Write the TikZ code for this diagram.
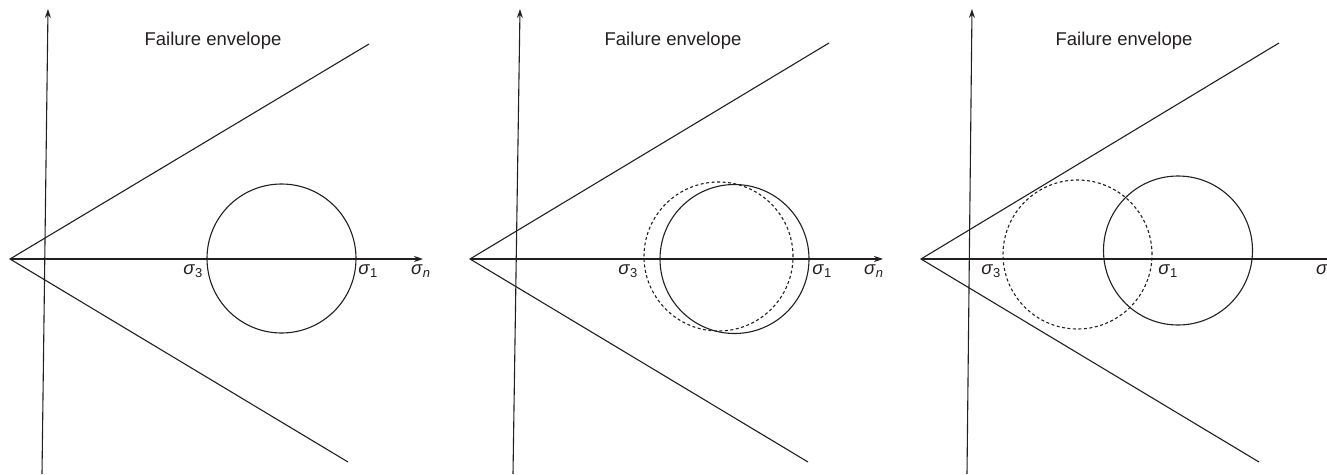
\documentclass[tikz,border=0pt]{standalone}
\usepackage{fontspec}
\setmainfont{Liberation Sans}
\usepackage{tikz}
\usetikzlibrary{arrows.meta}
\definecolor{ink}{HTML}{231F20}
\newcommand{\sig}[1]{\textit{σ}\textsubscript{#1}}

\begin{document}
\begin{tikzpicture}[
  x=1pt, y=-1pt,
  >={Stealth[length=9pt,width=6pt]},
  every node/.style={text=ink, font=\fontsize{18.5}{22}\selectfont},
  axis/.style={->, line width=1.1pt, draw=ink},
  envelope/.style={line width=1.1pt, draw=ink},
  mohr/.style={line width=1.1pt, draw=ink},
  shifted/.style={mohr, dash pattern=on 3pt off 2.5pt},
  lbl/.style={inner sep=0pt}
]
\useasboundingbox (0,0) rectangle (1327,474);

% ---- panel 1: initial state ----
\coordinate (O1) at (10,259);
\coordinate (T1) at (48,9);
\coordinate (B1) at (42,474);
\coordinate (X1) at (423,259);
\coordinate (U1) at (369,44);
\coordinate (L1) at (348,462);
\coordinate (C1) at (281.5,258.5);

\node (F1) at (213,41) {Failure envelope};
\draw[axis] (B1) -- (T1);
\draw[axis] (O1) -- (X1);
\draw[envelope] (U1) -- (O1) -- (L1);
\draw[mohr] (C1) circle[radius=74.5pt];

\node[lbl] (s3a) at (193,271) {\sig{3}};
\node[lbl] (s1a) at (368,271) {\sig{1}};
\node[lbl, anchor=west] (sna) at (411,271) {\sig{\textit{n}}};

% ---- panel 2: small shift ----
\coordinate (O2) at (470,259);
\coordinate (T2) at (520,9);
\coordinate (B2) at (513,474);
\coordinate (X2) at (883,259);
\coordinate (U2) at (829,43);
\coordinate (L2) at (808,462);
\coordinate (C2) at (734.5,259);
\coordinate (D2) at (718.5,256.5);

\node (F2) at (673,41) {Failure envelope};
\draw[axis] (B2) -- (T2);
\draw[axis] (O2) -- (X2);
\draw[envelope] (U2) -- (O2) -- (L2);
\draw[mohr] (C2) circle[radius=74.5pt];
\draw[shifted] (D2) circle[radius=74.5pt];

\node[lbl] (s3b) at (628,271) {\sig{3}};
\node[lbl] (s1b) at (822,271) {\sig{1}};
\node[lbl, anchor=west] (snb) at (864,271) {\sig{\textit{n}}};

% ---- panel 3: circle touches envelope ----
\coordinate (O3) at (921,259);
\coordinate (T3) at (972,9);
\coordinate (B3) at (967,474);
\coordinate (X3) at (1345,259);
\coordinate (U3) at (1279,43);
\coordinate (L3) at (1259,462);
\coordinate (C3) at (1178,250.5);
\coordinate (D3) at (1077.5,254.5);

\node (F3) at (1124,41) {Failure envelope};
\draw[axis] (B3) -- (T3);
\draw[axis] (O3) -- (X3);
\draw[envelope] (U3) -- (O3) -- (L3);
\draw[mohr] (C3) circle[radius=74.5pt];
\draw[shifted] (D3) circle[radius=74.5pt];

\node[lbl] (s3c) at (991,271) {\sig{3}};
\node[lbl] (s1c) at (1168,271) {\sig{1}};
\node[lbl, anchor=west] (snc) at (1316,271) {\sig{\textit{n}}};

\end{tikzpicture}
\end{document}
